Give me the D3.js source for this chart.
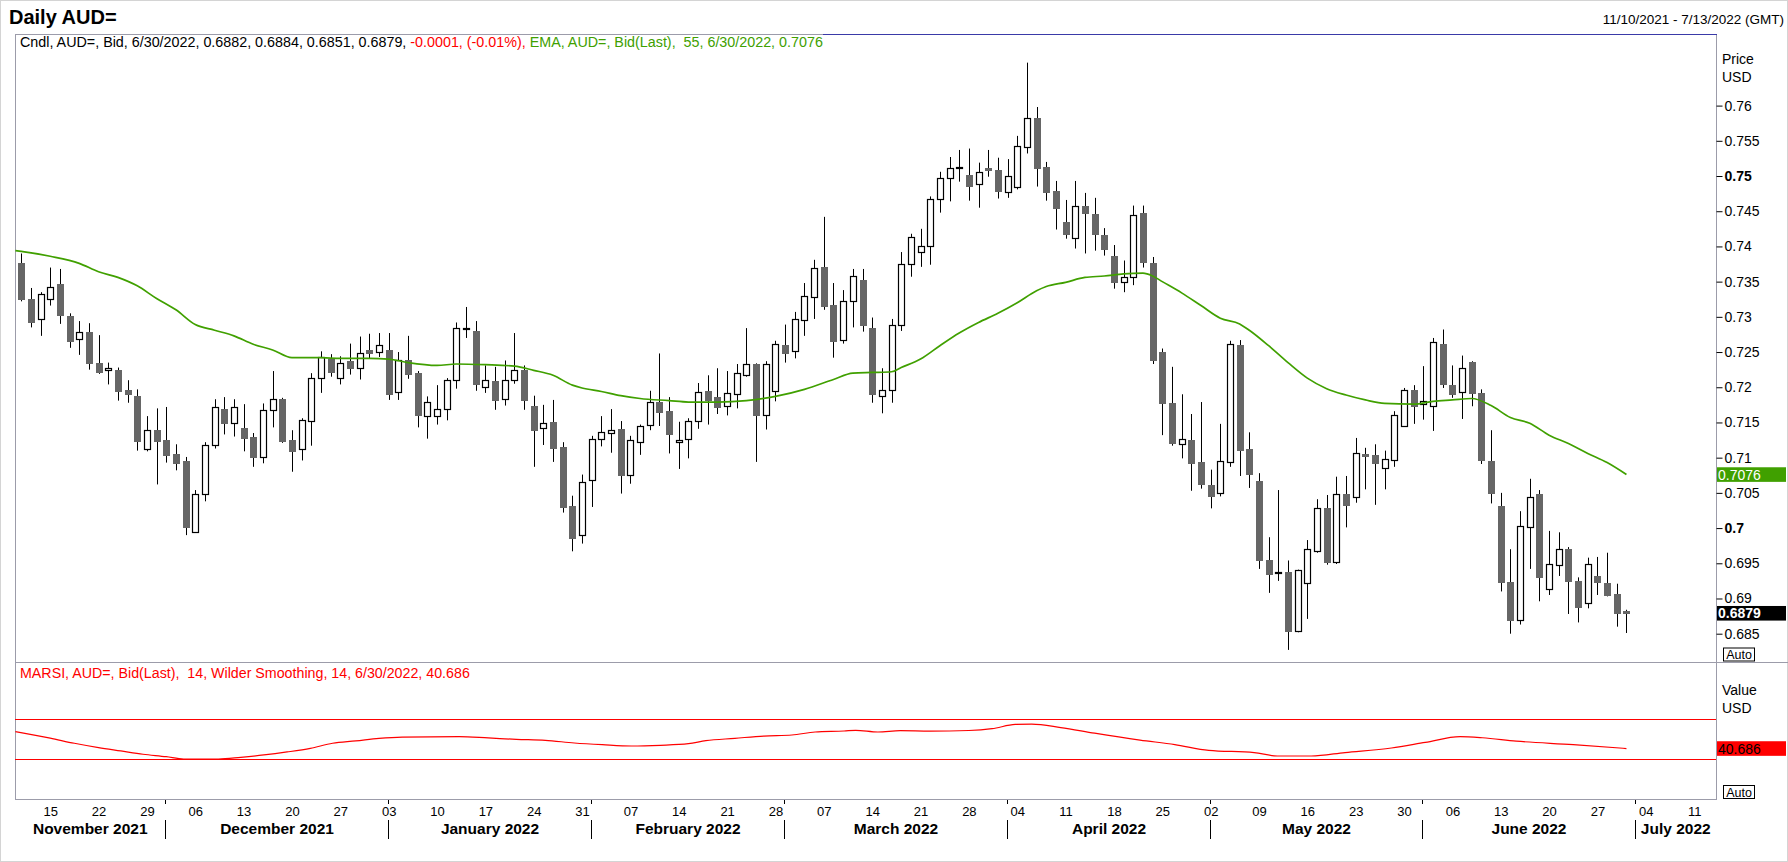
<!DOCTYPE html>
<html><head><meta charset="utf-8">
<script src="https://cdn.jsdelivr.net/npm/d3@7"></script>
<style>
html,body{margin:0;padding:0;background:#fff;}
svg{display:block;font-family:"Liberation Sans",Arial,sans-serif;}
text{white-space:pre;}
</style></head><body>
<svg id="chart" width="1788" height="862"></svg>
<script>
// ---------------- DATA ----------------
const symbol = "AUD=";
const startDate = "2021-11-10";
const axisEndDate = "2022-07-13";

const opens = [
.7376,.7326,.7297,.7325,.7347,.7301,.7268,.7279,.7234,.7224,
.7225,.7196,.7187,.7113,.7139,.7125,.7105,.7095,.6995,.7048,
.7118,.7169,.7149,.7142,.7129,.7101,.7167,.7183,.7125,.7112,
.7152,.7213,.7240,.7213,.7237,.7228,.7253,.7250,.7253,.7193,
.7238,.7220,.7159,.7159,.7169,.7210,.7283,.7280,.7201,.7209,
.7184,.7210,.7225,.7173,.7142,.7151,.7115,.7031,.6990,.7068,
.7127,.7135,.7141,.7076,.7122,.7146,.7179,.7166,.7122,.7126,
.7152,.7195,.7186,.7174,.7190,.7218,.7233,.7160,.7195,.7260,
.7251,.7295,.7328,.7371,.7317,.7267,.7322,.7352,.7284,.7187,
.7196,.7289,.7375,.7392,.7400,.7467,.7497,.7511,.7501,.7488,
.7511,.7509,.7478,.7485,.7541,.7582,.7513,.7479,.7435,.7412,
.7458,.7446,.7416,.7386,.7350,.7356,.7447,.7376,.7250,.7178,
.7120,.7125,.7094,.7061,.7050,.7094,.7260,.7112,.7067,.6955,
.6936,.6938,.6854,.6922,.6968,.7028,.6952,.7048,.7044,.7105,
.7104,.7086,.7096,.7145,.7196,.7176,.7174,.7262,.7203,.7193,
.7236,.7192,.7095,.7031,.6923,.6869,.7001,.7048,.6913,.6947,
.6970,.6925,.6893,.6932,.6922,.6906,.6882];
const highs = [
.7390,.7341,.7335,.7370,.7368,.7305,.7294,.7291,.7274,.7235,
.7228,.7210,.7197,.7159,.7170,.7172,.7119,.7101,.7054,.7122,
.7183,.7186,.7183,.7176,.7135,.7177,.7223,.7185,.7139,.7156,
.7220,.7251,.7247,.7244,.7262,.7272,.7276,.7277,.7277,.7250,
.7273,.7223,.7187,.7203,.7213,.7292,.7314,.7294,.7231,.7229,
.7238,.7277,.7231,.7188,.7175,.7182,.7122,.7046,.7076,.7131,
.7159,.7169,.7152,.7131,.7147,.7195,.7248,.7186,.7151,.7156,
.7206,.7217,.7227,.7223,.7233,.7284,.7234,.7237,.7266,.7289,
.7307,.7348,.7381,.7442,.7348,.7338,.7368,.7368,.7299,.7227,
.7297,.7392,.7418,.7425,.7471,.7506,.7527,.7537,.7539,.7519,
.7537,.7526,.7524,.7557,.7661,.7598,.7520,.7493,.7466,.7493,
.7476,.7469,.7426,.7402,.7380,.7458,.7458,.7385,.7255,.7229,
.7190,.7162,.7179,.7083,.7148,.7266,.7267,.7136,.7078,.6987,
.7054,.6954,.6941,.6983,.7041,.7047,.7073,.7074,.7128,.7114,
.7119,.7110,.7166,.7199,.7203,.7230,.7270,.7282,.7231,.7245,
.7237,.7197,.7139,.7050,.6970,.7024,.7070,.7054,.6996,.6994,
.6973,.6930,.6958,.6959,.6965,.6921,.6884];
const lows = [
.7322,.7285,.7273,.7316,.7290,.7256,.7246,.7225,.7219,.7204,
.7181,.7178,.7110,.7109,.7062,.7093,.7082,.6990,.6994,.7038,
.7113,.7133,.7130,.7109,.7087,.7092,.7143,.7121,.7080,.7096,
.7117,.7192,.7215,.7204,.7218,.7211,.7241,.7243,.7182,.7182,
.7212,.7143,.7127,.7147,.7153,.7198,.7270,.7195,.7192,.7168,
.7174,.7205,.7168,.7087,.7118,.7094,.7022,.6967,.6978,.7030,
.7116,.7107,.7049,.7063,.7104,.7139,.7145,.7106,.7084,.7099,
.7141,.7147,.7162,.7160,.7170,.7215,.7094,.7140,.7180,.7235,
.7241,.7273,.7297,.7310,.7242,.7262,.7285,.7279,.7178,.7163,
.7178,.7280,.7357,.7371,.7374,.7448,.7464,.7492,.7465,.7455,
.7499,.7468,.7469,.7481,.7532,.7485,.7465,.7424,.7411,.7397,
.7390,.7394,.7387,.7340,.7335,.7345,.7370,.7233,.7132,.7117,
.7099,.7053,.7056,.7028,.7045,.7087,.7074,.7057,.6942,.6908,
.6925,.6827,.6852,.6871,.6965,.6948,.6949,.7001,.7036,.7055,
.7033,.7055,.7087,.7144,.7148,.7154,.7138,.7199,.7185,.7155,
.7173,.7091,.7035,.6910,.6850,.6863,.6942,.6896,.6905,.6932,
.6878,.6866,.6886,.6905,.6903,.6860,.6851];
const closes = [
.7326,.7293,.7332,.7343,.7302,.7266,.7279,.7234,.7222,.7227,
.7195,.7190,.7123,.7140,.7123,.7104,.7093,.7001,.7049,.7118,
.7172,.7149,.7172,.7128,.7101,.7167,.7183,.7124,.7109,.7154,
.7213,.7243,.7222,.7234,.7228,.7248,.7249,.7260,.7191,.7238,
.7219,.7160,.7179,.7169,.7210,.7284,.7284,.7205,.7210,.7182,
.7210,.7225,.7182,.7140,.7149,.7114,.7030,.6986,.7065,.7126,
.7136,.7140,.7076,.7125,.7145,.7179,.7165,.7134,.7125,.7152,
.7193,.7182,.7172,.7192,.7220,.7233,.7160,.7233,.7262,.7248,
.7297,.7329,.7370,.7316,.7266,.7322,.7358,.7289,.7190,.7196,
.7289,.7375,.7414,.7400,.7467,.7497,.7512,.7513,.7486,.7505,
.7509,.7479,.7500,.7542,.7582,.7512,.7478,.7455,.7418,.7458,
.7448,.7418,.7397,.7350,.7356,.7445,.7378,.7238,.7177,.7121,
.7127,.7092,.7063,.7046,.7095,.7262,.7111,.7077,.6955,.6935,
.6937,.6854,.6940,.6970,.7029,.6952,.7048,.7033,.7106,.7103,
.7093,.7098,.7160,.7196,.7173,.7180,.7264,.7205,.7191,.7227,
.7192,.7097,.7050,.6923,.6869,.7003,.7044,.6930,.6949,.6970,
.6925,.6888,.6949,.6923,.6905,.6880,.6879];

// EMA(55) at sample trading-day positions
const emaIdx = [-0.6,0,3,6,8,10,12,14,16,18,20,22,24,26,28,31,33,36,38,40,43,45,48,51,53,55,57,58,60,62,
64,67,69,72,75,78,81,84,86,88,90,91,93,95,97,99,101,103,105,106,108,110,112,114,116,117,118,120,122,124,
126,127,129,131,133,135,137,139,141,144,146,148,150,152,154,156,158,160,162,164,166];
const emaVal = [0.7394,0.7393,0.7386,0.7376,0.7364,0.7356,0.7344,0.7326,0.7310,0.7289,0.7281,0.7273,0.7261,0.7253,0.7242,0.7242,0.7241,0.7241,0.7240,0.7235,
0.7231,0.7233,0.7232,0.7230,0.7224,0.7217,0.7203,0.7199,0.7194,0.7188,0.7184,0.7181,0.7179,0.7179,0.7181,0.7187,0.7197,0.7211,0.7220,0.7221,
0.7222,0.7228,0.7240,0.7259,0.7277,0.7292,0.7305,0.7320,0.7337,0.7343,0.7349,0.7356,0.7358,0.7361,0.7362,0.7358,0.7350,0.7334,0.7316,0.7298,
0.7290,0.7281,0.7259,0.7235,0.7213,0.7198,0.7189,0.7182,0.7177,0.7176,0.7180,0.7182,0.7184,0.7174,0.7157,0.7149,0.7132,0.7120,0.7106,0.7093,0.7076];

// MARSI
const rsiIdx = [-0.6,3,5.5,8,10.3,12.6,15,16.8,20.4,22.7,25.1,27.5,29.9,32.2,34.6,37,39.4,45.3,48.3,51.2,
54.2,57.2,60.1,63.1,66.1,69,70.8,73.8,76.8,79.7,82.1,85.1,86.3,88.6,90.9,94,98,100.4,102.8,104.5,
107.5,111,115.7,119.3,122.8,127.5,129.9,133.4,136.9,141.7,145.2,148.8,151.1,154.6,160.5,166];
const rsiVal = [57.4,51.0,45.9,41.6,38.3,35.0,32.6,30.3,30.3,32.0,34.3,37.3,40.9,45.9,48.2,50.8,52.1,52.5,51.2,49.8,
48.8,46.2,44.5,43.2,43.9,45.5,48.5,50.8,53.1,54.1,57.1,58.1,58.8,57.1,58.4,58.0,58.6,60.4,64.6,64.9,
61.5,55.9,49.1,44.6,38.9,36.7,33.3,33.3,36.7,41.2,46.8,52.5,51.4,48.0,44.6,40.686];
const rsiLevels = [70, 30];

const priceTicks = [0.685,0.69,0.695,0.7,0.705,0.71,0.715,0.72,0.725,0.73,0.735,0.74,0.745,0.75,0.755,0.76];
const priceTickLabels = ["0.685","0.69","0.695","0.7","0.705","0.71","0.715","0.72","0.725","0.73","0.735","0.74","0.745","0.75","0.755","0.76"];
const boldTickLabels = ["0.7","0.75"];

const dayTickDates = ["2021-11-15","2021-11-22","2021-11-29","2021-12-06","2021-12-13","2021-12-20","2021-12-27",
"2022-01-03","2022-01-10","2022-01-17","2022-01-24","2022-01-31","2022-02-07","2022-02-14","2022-02-21","2022-02-28",
"2022-03-07","2022-03-14","2022-03-21","2022-03-28","2022-04-04","2022-04-11","2022-04-18","2022-04-25",
"2022-05-02","2022-05-09","2022-05-16","2022-05-23","2022-05-30","2022-06-06","2022-06-13","2022-06-20","2022-06-27",
"2022-07-04","2022-07-11"];
const dayTickLabels = ["15","22","29","06","13","20","27","03","10","17","24","31","07","14","21","28",
"07","14","21","28","04","11","18","25","02","09","16","23","30","06","13","20","27","04","11"];
const monthStarts = ["2021-12-01","2022-01-01","2022-02-01","2022-03-01","2022-04-01","2022-05-01","2022-06-01","2022-07-01"];
const monthLabels = ["November 2021","December 2021","January 2022","February 2022","March 2022","April 2022","May 2022","June 2022","July 2022"];

// ---------------- LAYOUT ----------------
const W = 1788, H = 862;
const L = 15, R = 1716, TOP = 34, SEP = 662, BOT = 799;
const C_FILL = "#666666", C_EMA = "#40a000", C_RSI = "#ff0000", C_FRAME = "#9c9caa";

function parse(s){ return Date.UTC(+s.slice(0,4), +s.slice(5,7)-1, +s.slice(8,10)); }
const t0 = parse(startDate);
function dayIndex(s){
  const a = parse(s); let n = 0;
  for (let t = t0; t < a; t += 864e5){ const wd = new Date(t).getUTCDay(); if (wd !== 0 && wd !== 6) n++; }
  return n;
}
function fmtDate(s){ return (+s.slice(5,7)) + "/" + (+s.slice(8,10)) + "/" + s.slice(0,4); }
// trading dates of the candles
const dates = [];
for (let t = t0; dates.length < closes.length; t += 864e5){
  const d = new Date(t); const wd = d.getUTCDay();
  if (wd !== 0 && wd !== 6) dates.push(d.toISOString().slice(0,10));
}

const x = d3.scaleLinear().domain([-0.64, dayIndex(axisEndDate) + 0.26]).range([L, R]);
const y = d3.scaleLinear().domain([0.685, 0.76]).range([633.7, 105.6]);
const yR = d3.scaleLinear().domain([30, 70]).range([759.3, 719]);

const svg = d3.select("#chart");
svg.append("rect").attr("width", W).attr("height", H).attr("fill", "#fff");
const defs = svg.append("defs");
defs.append("clipPath").attr("id","clipMain").append("rect").attr("x",L).attr("y",TOP).attr("width",R-L).attr("height",SEP-TOP);
defs.append("clipPath").attr("id","clipRsi").append("rect").attr("x",L).attr("y",SEP).attr("width",R-L).attr("height",BOT-SEP);

// outer light border
svg.append("rect").attr("x",0.5).attr("y",0.5).attr("width",W-1).attr("height",H-1).attr("fill","none").attr("stroke","#d4d4d4");

// ---------------- HEADER ----------------
svg.append("text").attr("x",9).attr("y",24).attr("font-size",20).attr("font-weight","bold").attr("fill","#000").text("Daily " + symbol);
svg.append("text").attr("x",1784).attr("y",24).attr("font-size",13.5).attr("text-anchor","end").attr("fill","#000")
  .text(fmtDate(startDate) + " - " + fmtDate(axisEndDate) + " (GMT)");

function fit(sel, target){
  const w = sel.node().getComputedTextLength();
  const fs = parseFloat(sel.attr("font-size"));
  if (w > 0) sel.attr("font-size", (fs * target / w).toFixed(2));
}

const n = closes.length - 1;
const lastClose = closes[n], prevClose = closes[n-1];
const chg = lastClose - prevClose;
const leg = svg.append("text").attr("x",20).attr("y",47).attr("font-size",14);
leg.append("tspan").attr("fill","#000").text("Cndl, " + symbol + ", Bid, " + fmtDate(dates[n]) + ", " +
  opens[n].toFixed(4) + ", " + highs[n].toFixed(4) + ", " + lows[n].toFixed(4) + ", " + lastClose.toFixed(4) + ", ");
leg.append("tspan").attr("fill","#ff0000").text(chg.toFixed(4) + ", (" + (chg/prevClose*100).toFixed(2) + "%), ");
leg.append("tspan").attr("fill",C_EMA).text("EMA, " + symbol + ", Bid(Last),  55, " + fmtDate(dates[n]) + ", " + emaVal[emaVal.length-1].toFixed(4));
fit(leg, 803);

// ---------------- FRAME ----------------
const fr = svg.append("g").attr("stroke", C_FRAME).attr("stroke-width",1).attr("fill","none");
fr.append("line").attr("x1",L).attr("x2",823).attr("y1",TOP+0.5).attr("y2",TOP+0.5);
svg.append("line").attr("x1",823).attr("x2",R+1).attr("y1",TOP+0.5).attr("y2",TOP+0.5).attr("stroke","#3a3aa8");
fr.append("line").attr("x1",L+0.5).attr("x2",L+0.5).attr("y1",TOP).attr("y2",BOT+1);
fr.append("line").attr("x1",R+0.5).attr("x2",R+0.5).attr("y1",TOP).attr("y2",BOT+1);
fr.append("line").attr("x1",L).attr("x2",W).attr("y1",SEP+0.5).attr("y2",SEP+0.5);
fr.append("line").attr("x1",L).attr("x2",R+1).attr("y1",BOT+0.5).attr("y2",BOT+0.5);

// ---------------- CANDLES ----------------
const idx = d3.range(closes.length);
const cg = svg.append("g").attr("clip-path","url(#clipMain)");
cg.selectAll("line.wick").data(idx).join("line").attr("class","wick")
  .attr("x1", i => Math.round(x(i)) + 0.5).attr("x2", i => Math.round(x(i)) + 0.5)
  .attr("y1", i => y(highs[i])).attr("y2", i => y(lows[i]))
  .attr("stroke","#000").attr("stroke-width",1);
cg.selectAll("rect.body").data(idx).join("rect").attr("class","body")
  .each(function(i){
    const up = closes[i] >= opens[i];
    const cx = Math.round(x(i));
    const top = Math.round(y(Math.max(opens[i], closes[i])));
    const bot = Math.round(y(Math.min(opens[i], closes[i])));
    const s = d3.select(this);
    if (up){
      s.attr("x", cx - 3 + 0.5).attr("width", 6).attr("y", top + 0.5).attr("height", Math.max(0, bot - top))
       .attr("fill","#fff").attr("stroke","#000").attr("stroke-width",1.2);
    } else {
      s.attr("x", cx - 3).attr("width", 7).attr("y", top).attr("height", Math.max(1, bot - top + 1))
       .attr("fill", C_FILL);
    }
  });

// EMA line
const emaPts = emaIdx.map((d,i) => [d, emaVal[i]]);
cg.append("path").datum(emaPts)
  .attr("d", d3.line().x(d => x(d[0])).y(d => y(d[1])).curve(d3.curveMonotoneX))
  .attr("fill","none").attr("stroke",C_EMA).attr("stroke-width",1.7);

// ---------------- PRICE AXIS ----------------
const yAxis = d3.axisRight(y).tickValues(priceTicks).tickSize(6).tickPadding(2)
  .tickFormat((d,i) => priceTickLabels[i]);
const ya = svg.append("g").attr("transform", `translate(${R+0.5},0)`).call(yAxis);
ya.select(".domain").remove();
ya.selectAll(".tick line").attr("stroke","#000");
ya.selectAll(".tick text").attr("font-size",14).attr("fill","#000")
  .attr("font-family",'"Liberation Sans",Arial,sans-serif')
  .attr("font-weight", (d,i) => boldTickLabels.includes(priceTickLabels[i]) ? "bold" : "normal");

svg.append("text").attr("x",1722).attr("y",64).attr("font-size",14).text("Price");
svg.append("text").attr("x",1722).attr("y",82).attr("font-size",14).text("USD");
svg.append("text").attr("x",1722).attr("y",695).attr("font-size",14).text("Value");
svg.append("text").attr("x",1722).attr("y",713).attr("font-size",14).text("USD");

function autoBox(cy){
  svg.append("rect").attr("x",1723.5).attr("y",cy-6.5).attr("width",31).attr("height",13)
    .attr("fill","#fff").attr("stroke","#000").attr("stroke-width",1);
  svg.append("text").attr("x",1739).attr("y",cy+4.5).attr("font-size",12.5).attr("text-anchor","middle").text("Auto");
}
autoBox(654.5);
autoBox(792);

function valueBox(cy, label, bg, fg, bold){
  svg.append("rect").attr("x",R+1).attr("y",cy-7.3).attr("width",69).attr("height",14.6).attr("fill",bg);
  svg.append("text").attr("x",R+2).attr("y",cy+5).attr("font-size",14).attr("fill",fg)
    .attr("font-weight", bold ? "bold" : "normal").text(label);
}
valueBox(y(emaVal[emaVal.length-1]), emaVal[emaVal.length-1].toFixed(4), C_EMA, "#fff", false);
valueBox(y(lastClose), lastClose.toFixed(4), "#000", "#fff", true);

// ---------------- RSI PANEL ----------------
const rg = svg.append("g").attr("clip-path","url(#clipRsi)");
rg.selectAll("line.lvl").data(rsiLevels).join("line")
  .attr("x1",L).attr("x2",R).attr("y1", d => Math.round(yR(d))+0.5).attr("y2", d => Math.round(yR(d))+0.5)
  .attr("stroke",C_RSI).attr("stroke-width",1.2);
rg.append("path").datum(rsiIdx.map((d,i) => [d, rsiVal[i]]))
  .attr("d", d3.line().x(d => x(d[0])).y(d => yR(d[1])).curve(d3.curveMonotoneX))
  .attr("fill","none").attr("stroke",C_RSI).attr("stroke-width",1.2);
const rsiLast = rsiVal[rsiVal.length-1];
const rl = svg.append("text").attr("x",20).attr("y",678).attr("font-size",13.5).attr("fill",C_RSI)
  .text("MARSI, " + symbol + ", Bid(Last),  14, Wilder Smoothing, 14, " + fmtDate(dates[n]) + ", " + rsiLast.toFixed(3));
fit(rl, 450);
valueBox(yR(rsiLast), rsiLast.toFixed(3), "#ff0000", "#000", false);

// ---------------- TIME AXIS ----------------
const xAxis = d3.axisBottom(x).tickValues(dayTickDates.map(dayIndex)).tickSize(0).tickPadding(8)
  .tickFormat((d,i) => dayTickLabels[i]);
const xa = svg.append("g").attr("transform", `translate(0,${BOT})`).call(xAxis);
xa.select(".domain").remove();
xa.selectAll(".tick text").attr("font-size",13).attr("fill","#000")
  .attr("font-family",'"Liberation Sans",Arial,sans-serif');

const bounds = monthStarts.map(s => Math.round(x(dayIndex(s) - 0.1)) + 0.5);
svg.selectAll("line.msep").data(bounds).join("line").attr("class","msep")
  .attr("x1", d => d).attr("x2", d => d).attr("y1", 820).attr("y2", 839).attr("stroke","#000");
svg.selectAll("line.mtick").data(bounds).join("line").attr("class","mtick")
  .attr("x1", d => d).attr("x2", d => d).attr("y1", BOT+1).attr("y2", BOT+5).attr("stroke","#000");
const edges = [L].concat(bounds).concat([R]);
svg.selectAll("text.month").data(monthLabels).join("text").attr("class","month")
  .attr("x", (d,i) => (edges[i] + edges[i+1]) / 2).attr("y", 834)
  .attr("text-anchor","middle").attr("font-size",15.5).attr("font-weight","bold").attr("fill","#000")
  .text(d => d);
</script>
</body></html>
